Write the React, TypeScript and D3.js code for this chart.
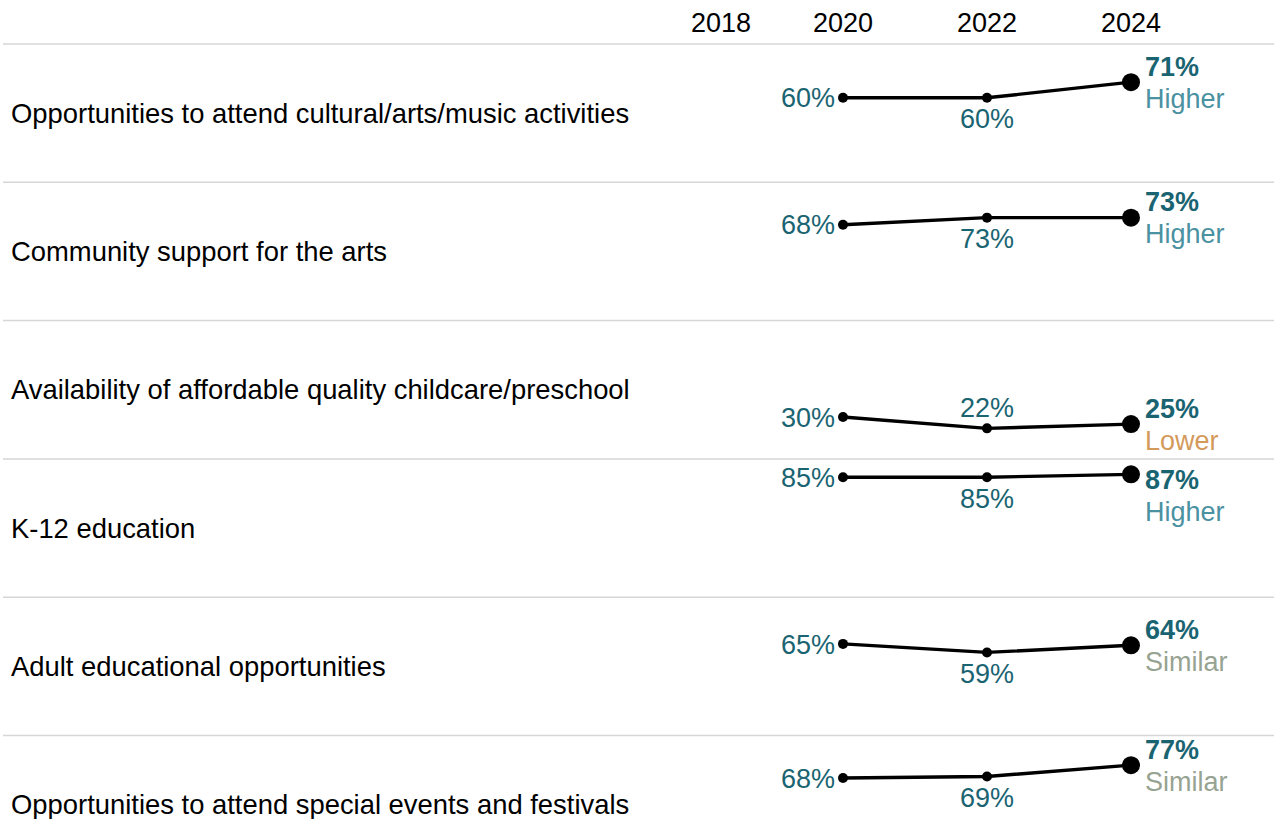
import React from "react";
import * as d3 from "d3";

const years = ["2018", "2020", "2022", "2024"];
const yearX = [721, 843, 987, 1131];
const categories = [
  "Opportunities to attend cultural/arts/music activities",
  "Community support for the arts",
  "Availability of affordable quality childcare/preschool",
  "K-12 education",
  "Adult educational opportunities",
  "Opportunities to attend special events and festivals",
];
const values2020 = [60, 68, 30, 85, 65, 68];
const values2022 = [60, 73, 22, 85, 59, 69];
const values2024 = [71, 73, 25, 87, 64, 77];
const comparisons = ["Higher", "Higher", "Lower", "Higher", "Similar", "Similar"];
const label2022Above = [false, false, true, false, false, false];
const label2024Shift = [0, 0, 0, 21, 0, 0];

const compColor: Record<string, string> = {
  Higher: "#4a91a1",
  Lower: "#d49a5b",
  Similar: "#97a392",
};
const TEAL = "#1a6472";
const FONT = "'Liberation Sans', Arial, Helvetica, sans-serif";

export default function App() {
  const W = 1274;
  const H = 819;
  const top0 = 44;
  const rowH = 138.3;
  const x = d3.scalePoint<string>().domain(["2020", "2022", "2024"]).range([843, 1131]);
  const y = d3.scaleLinear().domain([0, 100]).range([139, -3]);
  const line = d3
    .line<[string, number]>()
    .x((d) => x(d[0]) as number)
    .y((d) => y(d[1]));
  const fs = 27;
  const fsLabel = 27.4;
  const cy = 9.6; // baseline offset from cap-center

  return (
    <svg
      width={W}
      height={H}
      style={{ position: "absolute", left: 0, top: 0, background: "#fff" }}
      fontFamily={FONT}
    >
      {years.map((yr, i) => (
        <text key={yr} x={yearX[i]} y={22 + cy} fontSize={fs} textAnchor="middle" fill="#000">
          {yr}
        </text>
      ))}
      {categories.map((cat, i) => {
        const t = top0 + i * rowH;
        const pts: [string, number][] = [
          ["2020", values2020[i]],
          ["2022", values2022[i]],
          ["2024", values2024[i]],
        ];
        const py = (v: number) => t + y(v);
        return (
          <g key={cat}>
            <line x1={3} x2={W} y1={t} y2={t} stroke="#d6d6d6" strokeWidth={1.5} />
            <text x={11} y={t + 69 + cy} fontSize={fsLabel} fill="#000">
              {cat}
            </text>
            <g transform={`translate(0,${t})`}>
              <path d={line(pts) || ""} fill="none" stroke="#000" strokeWidth={3.4} />
              <circle cx={x("2020")} cy={y(values2020[i])} r={5} fill="#000" />
              <circle cx={x("2022")} cy={y(values2022[i])} r={5} fill="#000" />
              <circle cx={x("2024")} cy={y(values2024[i])} r={9} fill="#000" />
            </g>
            <text
              x={(x("2020") as number) - 8}
              y={py(values2020[i]) + cy}
              fontSize={fs}
              textAnchor="end"
              fill={TEAL}
            >
              {values2020[i]}%
            </text>
            <text
              x={x("2022") as number}
              y={py(values2022[i]) + (label2022Above[i] ? -20.5 : 21) + cy}
              fontSize={fs}
              textAnchor="middle"
              fill={TEAL}
            >
              {values2022[i]}%
            </text>
            <text
              x={(x("2024") as number) + 14}
              y={py(values2024[i]) - 16 + label2024Shift[i] + cy}
              fontSize={fs}
              fontWeight="bold"
              fill={TEAL}
            >
              {values2024[i]}%
            </text>
            <text
              x={(x("2024") as number) + 14}
              y={py(values2024[i]) + 16 + label2024Shift[i] + cy}
              fontSize={fs}
              fill={compColor[comparisons[i]]}
            >
              {comparisons[i]}
            </text>
          </g>
        );
      })}
    </svg>
  );
}
